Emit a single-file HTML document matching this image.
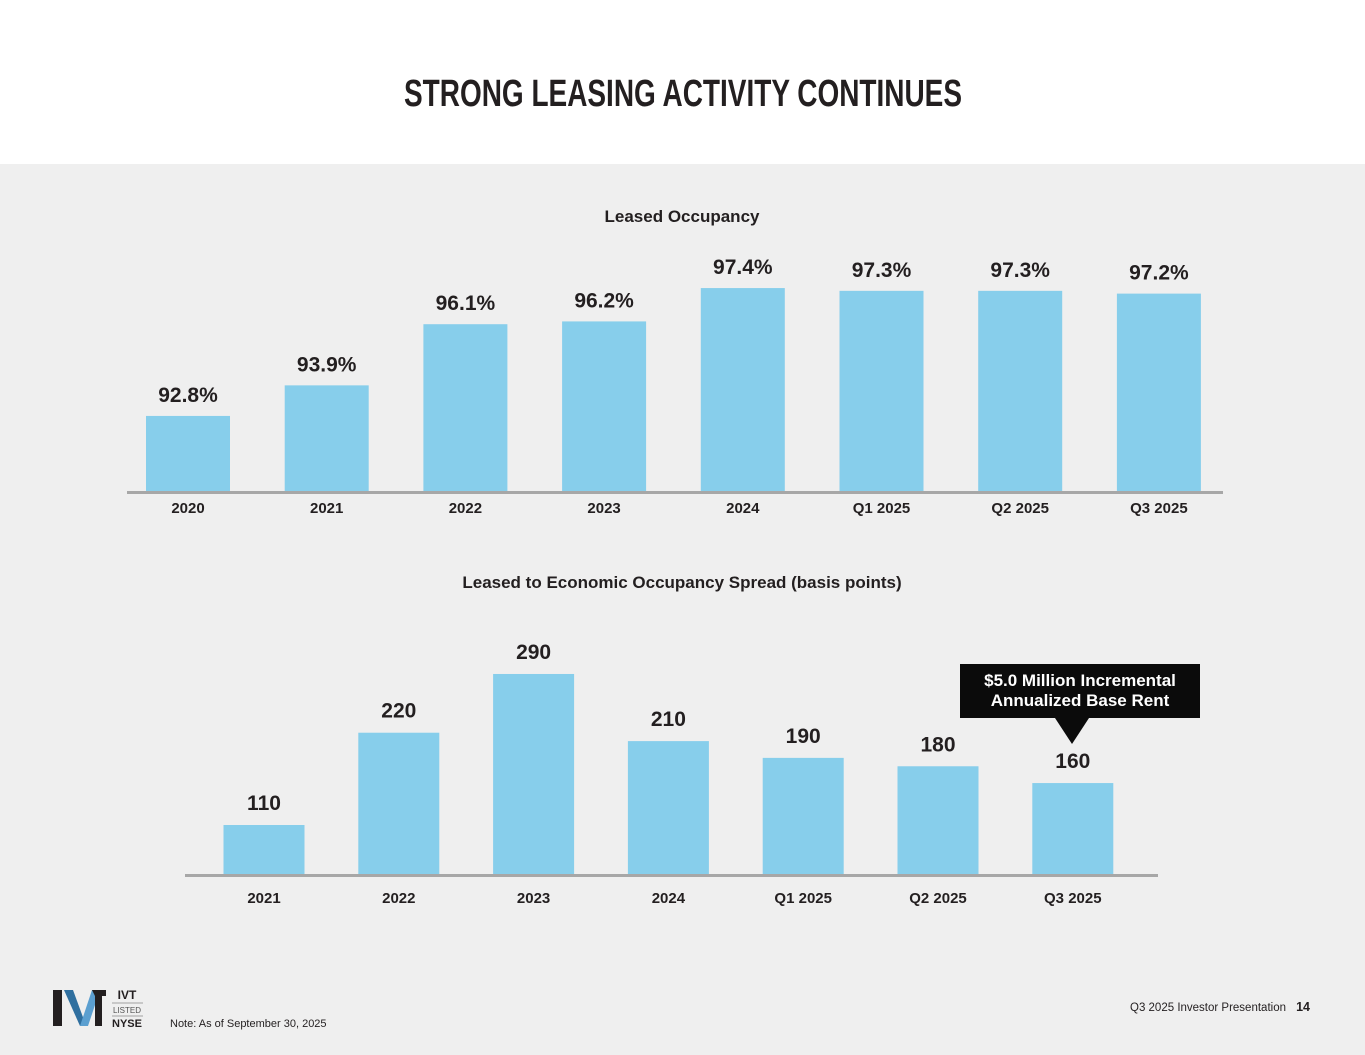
<!DOCTYPE html>
<html><head><meta charset="utf-8">
<style>
html,body{margin:0;padding:0;width:1365px;height:1055px;overflow:hidden;background:#fff;font-family:"Liberation Sans",sans-serif;}
svg{display:block}
text{font-family:"Liberation Sans",sans-serif;fill:#231f20}
</style></head>
<body>
<svg id="s" width="1365" height="1055" viewBox="0 0 1365 1055">
  <rect x="0" y="0" width="1365" height="164" fill="#ffffff"/>
  <rect x="0" y="164" width="1365" height="891" fill="#efefef"/>
  <text x="683" y="106" text-anchor="middle" font-size="38" font-weight="bold" textLength="558" lengthAdjust="spacingAndGlyphs" style="font-family:'Liberation Sans Narrow','Liberation Sans',sans-serif">STRONG LEASING ACTIVITY CONTINUES</text>
  <text x="682" y="222" text-anchor="middle" font-size="17" font-weight="bold">Leased Occupancy</text>
  <text x="682" y="588" text-anchor="middle" font-size="17" font-weight="bold">Leased to Economic Occupancy Spread (basis points)</text>
  <g id="c1"></g>
  <g id="c2"></g>
  <g>
    <rect x="960" y="664" width="240" height="54" fill="#0b0b0b"/>
    <polygon points="1055,718 1089,718 1072,744" fill="#0b0b0b"/>
    <text x="1080" y="686" text-anchor="middle" font-size="17" font-weight="bold" style="fill:#fff">$5.0 Million Incremental</text>
    <text x="1080" y="706" text-anchor="middle" font-size="17" font-weight="bold" style="fill:#fff">Annualized Base Rent</text>
  </g>
  <g>
    <polygon points="53,990 62,990 62,1026 53,1026" fill="#231f20"/>
    <polygon points="64,990 73,990 84,1020 80,1026" fill="#2f6f9f"/>
    <polygon points="80,1026 92,990 100,990 88,1026" fill="#5b9fd0"/>
    <polygon points="92,990 106,990 106,996 102,996 102,1026 95,1026 95,996" fill="#231f20"/>
    <text x="127" y="999" text-anchor="middle" font-size="12" font-weight="bold">IVT</text>
    <line x1="112" y1="1003" x2="143" y2="1003" stroke="#888" stroke-width="0.7"/>
    <text x="127" y="1013" text-anchor="middle" font-size="8" style="fill:#555">LISTED</text>
    <line x1="112" y1="1016" x2="143" y2="1016" stroke="#888" stroke-width="0.7"/>
    <text x="127" y="1027" text-anchor="middle" font-size="11" font-weight="bold">NYSE</text>
  </g>
  <text x="170" y="1027" font-size="11">Note: As of September 30, 2025</text>
  <text x="1286" y="1011" text-anchor="end" font-size="11.5">Q3 2025 Investor Presentation</text>
  <text x="1310" y="1011" text-anchor="end" font-size="12.5" font-weight="bold">14</text>
</svg>
<script>
const occCategories = ["2020","2021","2022","2023","2024","Q1 2025","Q2 2025","Q3 2025"];
const occValues = [92.8, 93.9, 96.1, 96.2, 97.4, 97.3, 97.3, 97.2];
const occLabels = ["92.8%","93.9%","96.1%","96.2%","97.4%","97.3%","97.3%","97.2%"];
const spreadCategories = ["2021","2022","2023","2024","Q1 2025","Q2 2025","Q3 2025"];
const spreadValues = [110, 220, 290, 210, 190, 180, 160];
const spreadLabels = ["110","220","290","210","190","180","160"];

const NS = "http://www.w3.org/2000/svg";
function mk(tag, attrs, parent){const e=document.createElementNS(NS,tag);for(const k in attrs)e.setAttribute(k,attrs[k]);parent.appendChild(e);return e;}

function drawChart(g, cats, vals, labels, cfg){
  const xC = i => cfg.x0 + i*cfg.step;
  const yV = v => cfg.base - (v - cfg.vmin)*cfg.k;
  cats.forEach((c,i)=>{
    const top = yV(vals[i]);
    const r = mk("rect",{x:xC(i)-cfg.bw/2,y:top,width:cfg.bw,height:cfg.base-top,fill:"#87ceeb"},g);
    
    
    const t = mk("text",{x:xC(i),y:top-cfg.lblOff,"text-anchor":"middle","font-size":cfg.vfs,"font-weight":"bold"},g);
    t.textContent = labels[i];
    
    
    const ct = mk("text",{x:xC(i),y:cfg.catY,"text-anchor":"middle","font-size":15,"font-weight":"bold"},g);
    ct.textContent = c;
    
    
  });
  const ax = mk("line",{x1:cfg.ax1,x2:cfg.ax2,y1:cfg.base+1.5,y2:cfg.base+1.5,stroke:"#a7a7a7","stroke-width":3},g);
  
  
}
drawChart(document.getElementById('c1'), occCategories, occValues, occLabels,
  {x0:188, step:138.7, bw:84, base:491, vmin:90.1, k:27.8, lblOff:14, vfs:21, catY:513, ax1:127, ax2:1223});
drawChart(document.getElementById('c2'), spreadCategories, spreadValues, spreadLabels,
  {x0:264, step:134.8, bw:81, base:874, vmin:51.6, k:0.839, lblOff:15, vfs:21, catY:903, ax1:185, ax2:1158});
</script>
</body></html>
